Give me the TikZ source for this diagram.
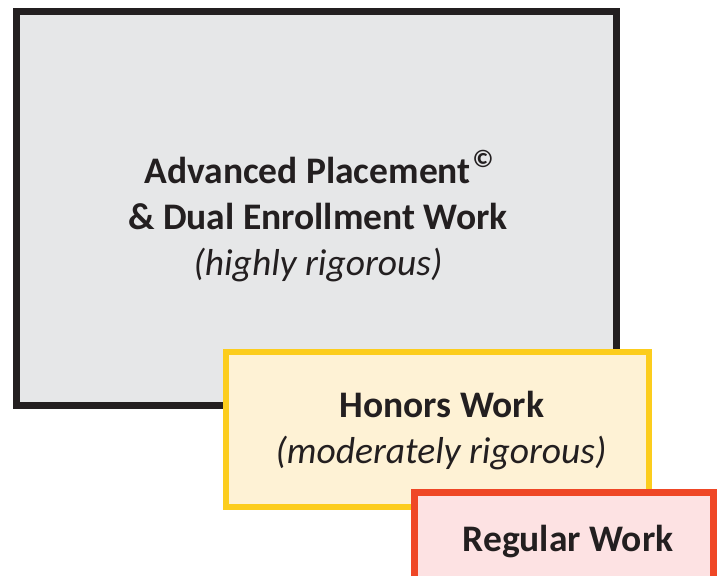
\documentclass[tikz,border=0pt]{standalone}
\usepackage{fontspec}
\setmainfont{Carlito}
\definecolor{apline}{HTML}{231F20}
\definecolor{apfill}{HTML}{E6E7E8}
\definecolor{hnline}{HTML}{FCCD1D}
\definecolor{hnfill}{HTML}{FEF2D5}
\definecolor{rgline}{HTML}{EF4726}
\definecolor{rgfill}{HTML}{FDE2E3}
\definecolor{txt}{HTML}{231F20}
\tikzset{
  tierbox/.style={draw, rectangle, inner sep=0pt, outer sep=0pt},
  bigtxt/.style={anchor=base, inner sep=0pt, text=txt, font=\fontsize{37.5}{46}\selectfont},
}
\begin{document}
\begin{tikzpicture}[x=1pt,y=-1pt]
\useasboundingbox (0,0) rectangle (719,575);
\clip (0,0) rectangle (719,575);
\node[tierbox, draw=apline, fill=apfill, line width=7pt, minimum width=600pt, minimum height=394pt] (ap) at (316.5,208.5) {};
\node[tierbox, draw=hnline, fill=hnfill, line width=6pt, minimum width=423pt, minimum height=155pt] (hn) at (437.5,429.5) {};
\node[tierbox, draw=rgline, fill=rgfill, line width=7pt, minimum width=299pt, minimum height=150pt] (rg) at (564,567.5) {};
\node[bigtxt] (ap1) at (319,183) {\bfseries Advanced Placement\hspace{2pt}\raisebox{16pt}{\fontsize{25}{25}\selectfont ©}};
\node[bigtxt] (ap2) at (318,229) {\bfseries \& Dual Enrollment Work};
\node[bigtxt] (ap3) at (318,275) {\itshape (highly rigorous)};
\node[bigtxt] (hn1) at (442,417) {\bfseries Honors Work};
\node[bigtxt] (hn2) at (441,463) {\itshape (moderately rigorous)};
\node[bigtxt] (rg1) at (568,551) {\bfseries Regular Work};
\end{tikzpicture}
\end{document}
